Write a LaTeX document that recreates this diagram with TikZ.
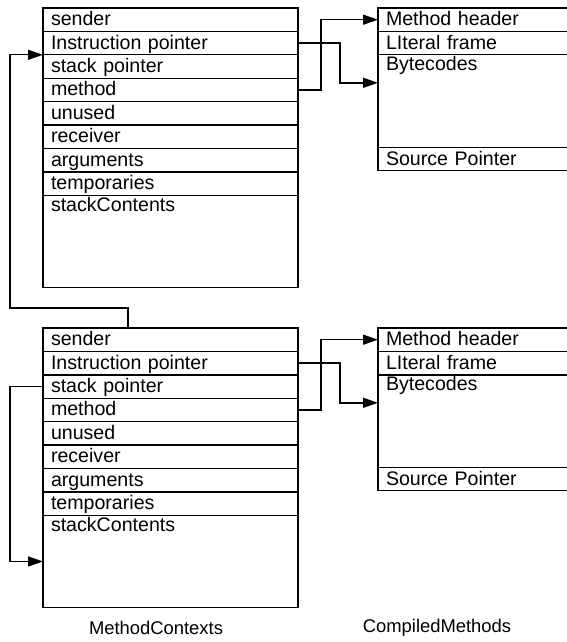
\documentclass[tikz,border=0pt]{standalone}
\usepackage{fontspec}
\setmainfont{Liberation Sans}
\usetikzlibrary{positioning,calc,arrows.meta}

\begin{document}
\begin{tikzpicture}[
    x=1pt, y=-1pt,
    field/.style={rectangle, draw=black, line width=1.4pt, outer sep=0pt, inner xsep=8pt, inner ysep=0pt, text width=239pt, align=left, text height=16pt, text depth=4pt, minimum height=23.4pt, font=\fontsize{19.6}{22}\selectfont},
    cmfield/.style={field, text width=184pt},
    bigfield/.style={text depth=76.5pt},
    link/.style={-{Triangle[length=15pt,width=10pt]}, line width=1.4pt},
    caption/.style={font=\fontsize{18.4}{22}\selectfont}
]
\useasboundingbox (0,0) rectangle (567,642);
\clip (0,0) rectangle (567,642);

% one MethodContext and its CompiledMethod per row
\foreach \k/\top in {1/8, 2/328} {
  \node[field, anchor=north west] (sender\k) at (43,\top) {sender};
  \node[field, below=0pt of sender\k] (ip\k) {Instruction pointer};
  \node[field, below=0pt of ip\k] (sp\k) {stack pointer};
  \node[field, below=0pt of sp\k] (method\k) {method};
  \node[field, below=0pt of method\k] (unused\k) {unused};
  \node[field, below=0pt of unused\k] (receiver\k) {receiver};
  \node[field, below=0pt of receiver\k] (args\k) {arguments};
  \node[field, below=0pt of args\k] (temps\k) {temporaries};
  \node[field, bigfield, below=0pt of temps\k] (stack\k) {stackContents};

  \node[cmfield, anchor=north west] (mh\k) at (378,\top) {Method header};
  \node[cmfield, below=0pt of mh\k] (lf\k) {LIteral frame};
  \node[cmfield, bigfield, below=0pt of lf\k] (bc\k) {Bytecodes};
  \node[cmfield, below=0pt of bc\k] (src\k) {Source Pointer};

  \draw[link] (method\k.east) -- ++(23,0) |- (mh\k.west);
  \draw[link] (ip\k.east) -- ++(42,0) |- ([yshift=-28pt]bc\k.north west);
}

% sender and stack pointer
\coordinate (bend) at (10,308);
\draw[link] ([xshift=85pt]sender2.north west) |- (bend) |- (ip1.south west);
\draw[link] (sp2.west) -- ++(-33,0) |- (stack2.west);

\node[caption] (mclabel) at (156,628) {MethodContexts};
\node[caption] (cmlabel) at (437,628) {CompiledMethods};

\end{tikzpicture}
\end{document}
